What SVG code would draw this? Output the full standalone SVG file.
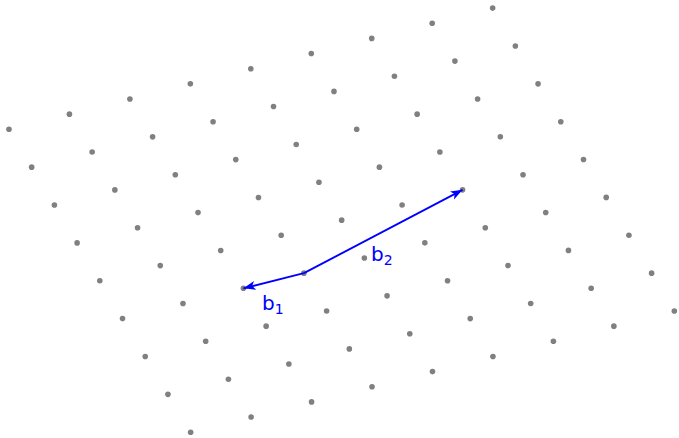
<svg xmlns="http://www.w3.org/2000/svg" width="679" height="438" viewBox="0 0 679 438">
<style>
.pt{fill:#808080}
.vec{stroke:#0000ff;stroke-width:1.9;fill:none;marker-end:url(#ah)}
.lbl{fill:#0000ff;font-family:"DejaVu Sans","Liberation Sans",sans-serif;font-size:20px}
.sub{font-size:14px}
</style>
<defs>
<marker id="ah" markerUnits="userSpaceOnUse" markerWidth="14" markerHeight="10" refX="12" refY="4.5" orient="auto">
<path d="M0,0 L12,4.5 L0,9 L3,4.5 Z" fill="#0000ff"/>
</marker>
</defs>
<g id="lattice">
<g id="p-3_-5"><circle class="pt" cx="8.97" cy="129.31" r="2.8"/></g>
<g id="p-2_-5"><circle class="pt" cx="69.43" cy="114.16" r="2.8"/></g>
<g id="p-1_-5"><circle class="pt" cx="129.89" cy="99.01" r="2.8"/></g>
<g id="p0_-5"><circle class="pt" cx="190.35" cy="83.86" r="2.8"/></g>
<g id="p1_-5"><circle class="pt" cx="250.81" cy="68.71" r="2.8"/></g>
<g id="p2_-5"><circle class="pt" cx="311.27" cy="53.56" r="2.8"/></g>
<g id="p3_-5"><circle class="pt" cx="371.73" cy="38.41" r="2.8"/></g>
<g id="p4_-5"><circle class="pt" cx="432.19" cy="23.26" r="2.8"/></g>
<g id="p5_-5"><circle class="pt" cx="492.65" cy="8.11" r="2.8"/></g>
<g id="p-3_-4"><circle class="pt" cx="31.68" cy="167.17" r="2.8"/></g>
<g id="p-2_-4"><circle class="pt" cx="92.14" cy="152.02" r="2.8"/></g>
<g id="p-1_-4"><circle class="pt" cx="152.60" cy="136.87" r="2.8"/></g>
<g id="p0_-4"><circle class="pt" cx="213.06" cy="121.72" r="2.8"/></g>
<g id="p1_-4"><circle class="pt" cx="273.52" cy="106.57" r="2.8"/></g>
<g id="p2_-4"><circle class="pt" cx="333.98" cy="91.42" r="2.8"/></g>
<g id="p3_-4"><circle class="pt" cx="394.44" cy="76.27" r="2.8"/></g>
<g id="p4_-4"><circle class="pt" cx="454.90" cy="61.12" r="2.8"/></g>
<g id="p5_-4"><circle class="pt" cx="515.36" cy="45.97" r="2.8"/></g>
<g id="p-3_-3"><circle class="pt" cx="54.39" cy="205.03" r="2.8"/></g>
<g id="p-2_-3"><circle class="pt" cx="114.85" cy="189.88" r="2.8"/></g>
<g id="p-1_-3"><circle class="pt" cx="175.31" cy="174.73" r="2.8"/></g>
<g id="p0_-3"><circle class="pt" cx="235.77" cy="159.58" r="2.8"/></g>
<g id="p1_-3"><circle class="pt" cx="296.23" cy="144.43" r="2.8"/></g>
<g id="p2_-3"><circle class="pt" cx="356.69" cy="129.28" r="2.8"/></g>
<g id="p3_-3"><circle class="pt" cx="417.15" cy="114.13" r="2.8"/></g>
<g id="p4_-3"><circle class="pt" cx="477.61" cy="98.98" r="2.8"/></g>
<g id="p5_-3"><circle class="pt" cx="538.07" cy="83.83" r="2.8"/></g>
<g id="p-3_-2"><circle class="pt" cx="77.10" cy="242.89" r="2.8"/></g>
<g id="p-2_-2"><circle class="pt" cx="137.56" cy="227.74" r="2.8"/></g>
<g id="p-1_-2"><circle class="pt" cx="198.02" cy="212.59" r="2.8"/></g>
<g id="p0_-2"><circle class="pt" cx="258.48" cy="197.44" r="2.8"/></g>
<g id="p1_-2"><circle class="pt" cx="318.94" cy="182.29" r="2.8"/></g>
<g id="p2_-2"><circle class="pt" cx="379.40" cy="167.14" r="2.8"/></g>
<g id="p3_-2"><circle class="pt" cx="439.86" cy="151.99" r="2.8"/></g>
<g id="p4_-2"><circle class="pt" cx="500.32" cy="136.84" r="2.8"/></g>
<g id="p5_-2"><circle class="pt" cx="560.78" cy="121.69" r="2.8"/></g>
<g id="p-3_-1"><circle class="pt" cx="99.81" cy="280.75" r="2.8"/></g>
<g id="p-2_-1"><circle class="pt" cx="160.27" cy="265.60" r="2.8"/></g>
<g id="p-1_-1"><circle class="pt" cx="220.73" cy="250.45" r="2.8"/></g>
<g id="p0_-1"><circle class="pt" cx="281.19" cy="235.30" r="2.8"/></g>
<g id="p1_-1"><circle class="pt" cx="341.65" cy="220.15" r="2.8"/></g>
<g id="p2_-1"><circle class="pt" cx="402.11" cy="205.00" r="2.8"/></g>
<g id="p3_-1"><circle class="pt" cx="462.57" cy="189.85" r="2.8"/></g>
<g id="p4_-1"><circle class="pt" cx="523.03" cy="174.70" r="2.8"/></g>
<g id="p5_-1"><circle class="pt" cx="583.49" cy="159.55" r="2.8"/></g>
<g id="p-3_0"><circle class="pt" cx="122.52" cy="318.61" r="2.8"/></g>
<g id="p-2_0"><circle class="pt" cx="182.98" cy="303.46" r="2.8"/></g>
<g id="p-1_0"><circle class="pt" cx="243.44" cy="288.31" r="2.8"/></g>
<g id="p0_0"><circle class="pt" cx="303.90" cy="273.16" r="2.8"/></g>
<g id="p1_0"><circle class="pt" cx="364.36" cy="258.01" r="2.8"/></g>
<g id="p2_0"><circle class="pt" cx="424.82" cy="242.86" r="2.8"/></g>
<g id="p3_0"><circle class="pt" cx="485.28" cy="227.71" r="2.8"/></g>
<g id="p4_0"><circle class="pt" cx="545.74" cy="212.56" r="2.8"/></g>
<g id="p5_0"><circle class="pt" cx="606.20" cy="197.41" r="2.8"/></g>
<g id="p-3_1"><circle class="pt" cx="145.23" cy="356.47" r="2.8"/></g>
<g id="p-2_1"><circle class="pt" cx="205.69" cy="341.32" r="2.8"/></g>
<g id="p-1_1"><circle class="pt" cx="266.15" cy="326.17" r="2.8"/></g>
<g id="p0_1"><circle class="pt" cx="326.61" cy="311.02" r="2.8"/></g>
<g id="p1_1"><circle class="pt" cx="387.07" cy="295.87" r="2.8"/></g>
<g id="p2_1"><circle class="pt" cx="447.53" cy="280.72" r="2.8"/></g>
<g id="p3_1"><circle class="pt" cx="507.99" cy="265.57" r="2.8"/></g>
<g id="p4_1"><circle class="pt" cx="568.45" cy="250.42" r="2.8"/></g>
<g id="p5_1"><circle class="pt" cx="628.91" cy="235.27" r="2.8"/></g>
<g id="p-3_2"><circle class="pt" cx="167.94" cy="394.33" r="2.8"/></g>
<g id="p-2_2"><circle class="pt" cx="228.40" cy="379.18" r="2.8"/></g>
<g id="p-1_2"><circle class="pt" cx="288.86" cy="364.03" r="2.8"/></g>
<g id="p0_2"><circle class="pt" cx="349.32" cy="348.88" r="2.8"/></g>
<g id="p1_2"><circle class="pt" cx="409.78" cy="333.73" r="2.8"/></g>
<g id="p2_2"><circle class="pt" cx="470.24" cy="318.58" r="2.8"/></g>
<g id="p3_2"><circle class="pt" cx="530.70" cy="303.43" r="2.8"/></g>
<g id="p4_2"><circle class="pt" cx="591.16" cy="288.28" r="2.8"/></g>
<g id="p5_2"><circle class="pt" cx="651.62" cy="273.13" r="2.8"/></g>
<g id="p-3_3"><circle class="pt" cx="190.65" cy="432.19" r="2.8"/></g>
<g id="p-2_3"><circle class="pt" cx="251.11" cy="417.04" r="2.8"/></g>
<g id="p-1_3"><circle class="pt" cx="311.57" cy="401.89" r="2.8"/></g>
<g id="p0_3"><circle class="pt" cx="372.03" cy="386.74" r="2.8"/></g>
<g id="p1_3"><circle class="pt" cx="432.49" cy="371.59" r="2.8"/></g>
<g id="p2_3"><circle class="pt" cx="492.95" cy="356.44" r="2.8"/></g>
<g id="p3_3"><circle class="pt" cx="553.41" cy="341.29" r="2.8"/></g>
<g id="p4_3"><circle class="pt" cx="613.87" cy="326.14" r="2.8"/></g>
<g id="p5_3"><circle class="pt" cx="674.33" cy="310.99" r="2.8"/></g>
</g>
<g id="connectors">
<line id="b1" class="vec" x1="303.90" y1="273.16" x2="243.44" y2="288.31"/>
<line id="b2" class="vec" x1="303.90" y1="273.16" x2="462.57" y2="189.85"/>
<text class="lbl" x="262" y="310">b<tspan class="sub" dy="4">1</tspan></text>
<text class="lbl" x="371" y="261">b<tspan class="sub" dy="4">2</tspan></text>
</g>
</svg>
